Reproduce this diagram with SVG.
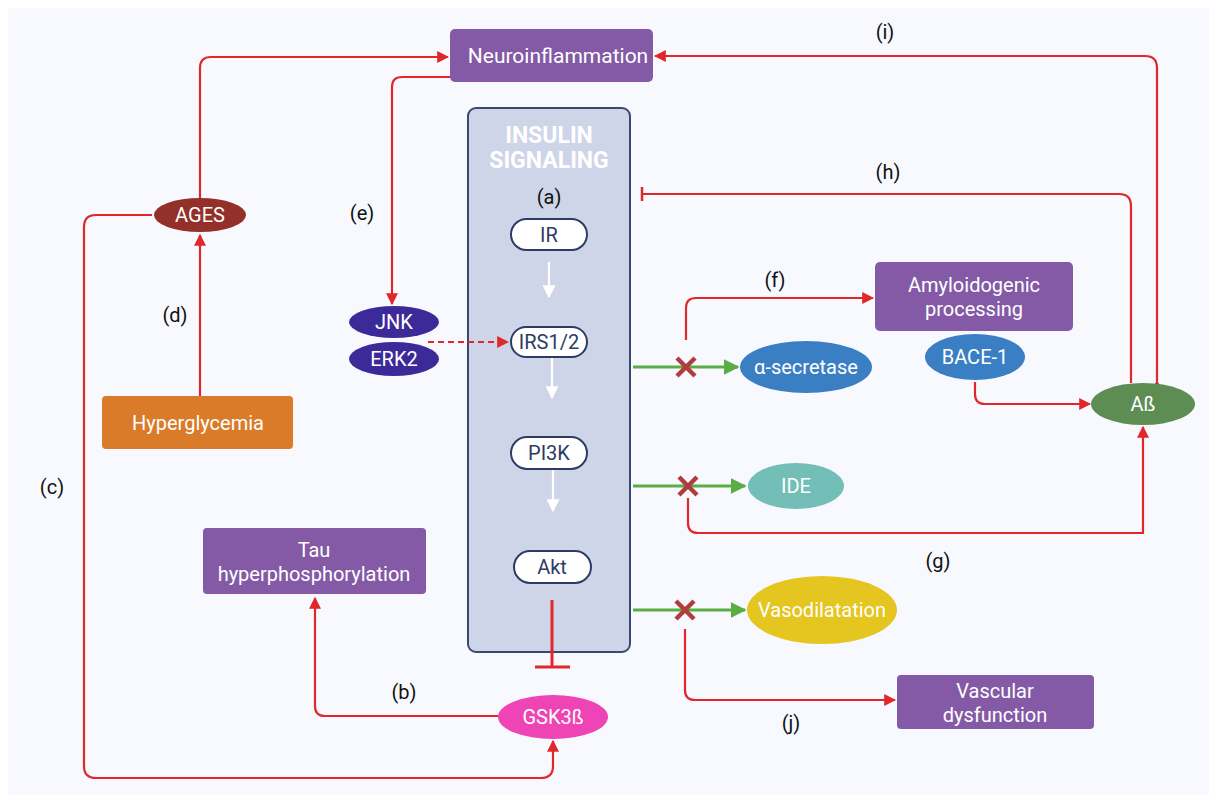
<svg xmlns="http://www.w3.org/2000/svg" width="1217" height="803" viewBox="0 0 1217 803">
<defs>
<style>
.t{font-family:Roboto,"Liberation Sans",sans-serif;font-size:20px;fill:#fff;text-anchor:middle}
.hd{font-family:Roboto,"Liberation Sans",sans-serif;font-size:23px;font-weight:bold;fill:#fff;text-anchor:middle}
.lab{font-family:Roboto,"Liberation Sans",sans-serif;font-size:20px;fill:#111;text-anchor:middle}
.pill{fill:#fff;stroke:#2e3c63;stroke-width:2}
.pt{font-family:Roboto,"Liberation Sans",sans-serif;font-size:20px;fill:#2e3c63;text-anchor:middle}
.purple{fill:#845aa6}
.r{fill:none;stroke:#e0282a;stroke-width:2.2}
.g{fill:none;stroke:#5aad43;stroke-width:3}
.w{fill:none;stroke:#fff;stroke-width:2.2}
.x{stroke:#b03c3c;stroke-width:4.5;stroke-linecap:butt}
</style>
<marker id="ar" viewBox="0 0 10 10" refX="9" refY="5" markerWidth="12" markerHeight="12" markerUnits="userSpaceOnUse" orient="auto"><path d="M0,0 L10,5 L0,10 z" fill="#e0282a"/></marker>
<marker id="ag" viewBox="0 0 10 10" refX="9" refY="5" markerWidth="16" markerHeight="16" markerUnits="userSpaceOnUse" orient="auto"><path d="M0,0 L10,5 L0,10 z" fill="#5aad43"/></marker>
<marker id="aw" viewBox="0 0 10 10" refX="9" refY="5" markerWidth="13" markerHeight="13" markerUnits="userSpaceOnUse" orient="auto"><path d="M0,0 L10,5 L0,10 z" fill="#fff"/></marker>
</defs>
<rect width="1217" height="803" fill="#fff"/>
<rect x="8" y="8" width="1201" height="787" fill="#f8f9fe"/>

<g id="insulin-panel">
<rect x="468" y="108" width="162" height="544" rx="8" fill="#cfd5e8" stroke="#3a4a6e" stroke-width="2"/>
<text x="549" y="143" class="hd">INSULIN</text>
<text x="549" y="168" class="hd">SIGNALING</text>
<text x="549" y="204" class="lab">(a)</text>
</g>

<g id="connectors">
<path class="w" d="M549,262 V297" marker-end="url(#aw)"/>
<path class="w" d="M552,357 V398" marker-end="url(#aw)"/>
<path class="w" d="M553,468 V511" marker-end="url(#aw)"/>
<path d="M552,600 V667" fill="none" stroke="#e0282a" stroke-width="3"/>
<path d="M535,667 H570" stroke="#e0282a" stroke-width="3"/>
<path class="r" d="M498,716 H325 Q315,716 315,706 V598" marker-end="url(#ar)"/>
<path class="r" d="M152,215 H96 Q84,215 84,227 V766 Q84,778 96,778 H541 Q553,778 553,766 V741" marker-end="url(#ar)"/>
<path class="r" d="M200,198 V68 Q200,57 211,57 H448" marker-end="url(#ar)"/>
<path class="r" d="M200,396 V235" marker-end="url(#ar)"/>
<path class="r" d="M450,77 H402 Q392,77 392,87 V304" marker-end="url(#ar)"/>
<path d="M428,342 H508" fill="none" stroke="#e0282a" stroke-width="2" stroke-dasharray="6,4" marker-end="url(#ar)"/>
<path class="g" d="M633,367 H738" marker-end="url(#ag)"/>
<path class="g" d="M633,486 H745" marker-end="url(#ag)"/>
<path class="g" d="M633,610 H745" marker-end="url(#ag)"/>
<path class="r" d="M686,340 V308 Q686,298 696,298 H873" marker-end="url(#ar)"/>
<path class="r" d="M975,382 V394 Q975,404 985,404 H1090" marker-end="url(#ar)"/>
<path class="r" d="M688,498 V523 Q688,533 698,533 H1143 V427" marker-end="url(#ar)"/>
<path class="r" d="M1131,383 V206 Q1131,194 1119,194 H642"/>
<path d="M642,187 V201" stroke="#e0282a" stroke-width="2.5"/>
<path class="r" d="M1157,381 V68 Q1157,56 1145,56 H655" marker-start="url(#ar)" marker-end="url(#ar)"/>
<path class="r" d="M685,629 V690 Q685,700 695,700 H895" marker-end="url(#ar)"/>
<path class="x" d="M677,358 L695,376 M695,358 L677,376"/>
<path class="x" d="M679,477 L697,495 M697,477 L679,495"/>
<path class="x" d="M676,601 L694,619 M694,601 L676,619"/>
</g>

<g id="labels">
<text x="404" y="699" class="lab">(b)</text>
<text x="52" y="494" class="lab">(c)</text>
<text x="175" y="322" class="lab">(d)</text>
<text x="362" y="220" class="lab">(e)</text>
<text x="775" y="287" class="lab">(f)</text>
<text x="938" y="568" class="lab">(g)</text>
<text x="888" y="179" class="lab">(h)</text>
<text x="885" y="39" class="lab">(i)</text>
<text x="791" y="730" class="lab">(j)</text>
</g>

<g id="neuroinflammation">
<rect x="450" y="29" width="203" height="53" rx="5" class="purple"/>
<text x="558" y="63" class="t" style="font-size:21px">Neuroinflammation</text>
</g>
<g id="ir"><rect x="511" y="219" width="76" height="31" rx="15.5" class="pill"/><text x="549" y="242" class="pt">IR</text></g>
<g id="irs"><rect x="511" y="327" width="76" height="30" rx="15" class="pill"/><text x="549" y="349" class="pt">IRS1/2</text></g>
<g id="pi3k"><rect x="511" y="437" width="76" height="32" rx="16" class="pill"/><text x="549" y="460" class="pt">PI3K</text></g>
<g id="akt"><rect x="514" y="551" width="77" height="32" rx="16" class="pill"/><text x="552" y="574" class="pt">Akt</text></g>
<g id="gsk3b"><ellipse cx="553" cy="717" rx="55" ry="22" fill="#ee44b5"/><text x="553" y="724" class="t">GSK3ß</text></g>
<g id="tau">
<rect x="203" y="528" width="223" height="66" rx="4" class="purple"/>
<text x="314" y="557" class="t">Tau</text>
<text x="314" y="581" class="t">hyperphosphorylation</text>
</g>
<g id="ages"><ellipse cx="200" cy="215" rx="46" ry="17" fill="#93302a"/><text x="200" y="222" class="t">AGES</text></g>
<g id="hyperglycemia"><rect x="102" y="396" width="191" height="53" rx="4" fill="#d97b29"/><text x="198" y="430" class="t">Hyperglycemia</text></g>
<g id="jnk"><ellipse cx="394" cy="322" rx="45" ry="16" fill="#3c2a98"/><text x="394" y="329" class="t">JNK</text></g>
<g id="erk2"><ellipse cx="394" cy="359" rx="45" ry="17" fill="#3c2a98"/><text x="394" y="366" class="t">ERK2</text></g>
<g id="alpha-secretase"><ellipse cx="806" cy="367" rx="66" ry="26" fill="#3a7fc4"/><text x="806" y="374" class="t">α-secretase</text></g>
<g id="amyloidogenic">
<rect x="875" y="262" width="198" height="69" rx="5" class="purple"/>
<text x="974" y="292" class="t">Amyloidogenic</text>
<text x="974" y="316" class="t">processing</text>
</g>
<g id="bace1"><ellipse cx="975" cy="357" rx="50" ry="23" fill="#3a7fc4"/><text x="975" y="364" class="t">BACE-1</text></g>
<g id="abeta"><ellipse cx="1143" cy="404" rx="52" ry="21" fill="#5e8d53"/><text x="1143" y="411" class="t">Aß</text></g>
<g id="ide"><ellipse cx="796" cy="486" rx="48" ry="23" fill="#73bfb8"/><text x="796" y="493" class="t">IDE</text></g>
<g id="vasodilatation"><ellipse cx="822" cy="610" rx="75" ry="34" fill="#e5c51f"/><text x="822" y="617" class="t">Vasodilatation</text></g>
<g id="vascular">
<rect x="897" y="675" width="197" height="54" rx="4" class="purple"/>
<text x="995" y="698" class="t">Vascular</text>
<text x="995" y="722" class="t">dysfunction</text>
</g>
</svg>
